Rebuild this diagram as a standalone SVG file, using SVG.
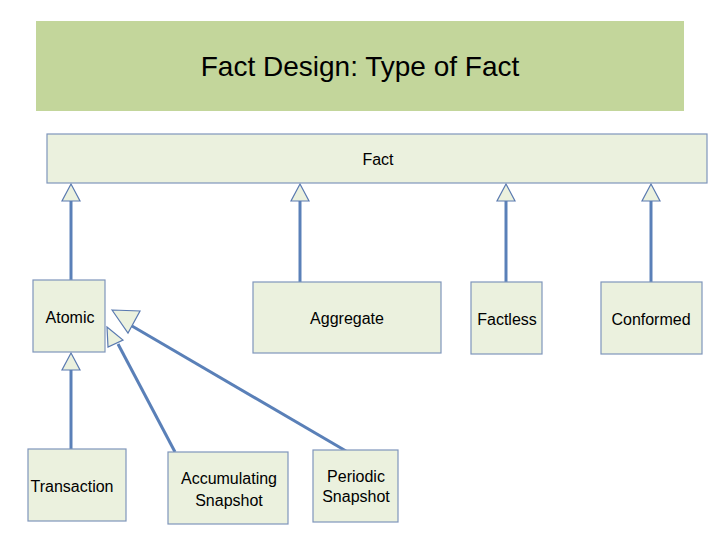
<svg xmlns="http://www.w3.org/2000/svg" width="720" height="540" viewBox="0 0 720 540">
<style>
.box{fill:#ebf1de;stroke:#7f96bb;stroke-width:1.2}
.t{font-family:"Liberation Sans",Arial,sans-serif;font-size:16px;fill:#000;text-anchor:middle}
.ln{stroke:#5a80b8;stroke-width:3;fill:none}
.tri{fill:#ebf1de;stroke:#5a7ab0;stroke-width:1.2}
</style>
<rect x="0" y="0" width="720" height="540" fill="#fff"/>
<g id="title">
<rect x="36" y="21" width="648" height="90" fill="#c3d69b"/>
<text x="360" y="76" font-family="Liberation Sans,Arial,sans-serif" font-size="28" text-anchor="middle">Fact Design: Type of Fact</text>
</g>
<g id="connectors">
<line class="ln" x1="71" y1="200" x2="71" y2="280"/>
<line class="ln" x1="300" y1="200" x2="300" y2="282"/>
<line class="ln" x1="506" y1="200" x2="506" y2="282"/>
<line class="ln" x1="651" y1="200" x2="651" y2="282"/>
<line class="ln" x1="71" y1="370" x2="71" y2="449"/>
<line class="ln" x1="118" y1="344" x2="175" y2="452"/>
<line class="ln" x1="132" y1="326" x2="346" y2="451"/>
<polygon class="tri" points="71,184 62,201 80,201"/>
<polygon class="tri" points="300,184 291,201 309,201"/>
<polygon class="tri" points="506,184 497,201 515,201"/>
<polygon class="tri" points="651,184 642,201 660,201"/>
<polygon class="tri" points="71,353 62,370 80,370"/>
<polygon class="tri" points="107,327 123,340 108,347"/>
<polygon class="tri" points="112,310 140,311 128,333"/>
</g>
<g id="fact"><rect class="box" x="47" y="134" width="660" height="49"/><text class="t" x="378" y="165">Fact</text></g>
<g id="atomic"><rect class="box" x="33" y="280" width="72" height="72"/><text class="t" x="70" y="323">Atomic</text></g>
<g id="aggregate"><rect class="box" x="253" y="282" width="188" height="71"/><text class="t" x="347" y="324">Aggregate</text></g>
<g id="factless"><rect class="box" x="471" y="282" width="71" height="72"/><text class="t" x="507" y="325">Factless</text></g>
<g id="conformed"><rect class="box" x="601" y="282" width="101" height="72"/><text class="t" x="651" y="325">Conformed</text></g>
<g id="transaction"><rect class="box" x="28" y="449" width="98" height="72"/><text class="t" x="72" y="492">Transaction</text></g>
<g id="accumulating"><rect class="box" x="168" y="452" width="120" height="72"/><text class="t" x="229" y="484">Accumulating</text><text class="t" x="229" y="506">Snapshot</text></g>
<g id="periodic"><rect class="box" x="313" y="450" width="85" height="72"/><text class="t" x="356" y="482">Periodic</text><text class="t" x="356" y="502">Snapshot</text></g>
</svg>
